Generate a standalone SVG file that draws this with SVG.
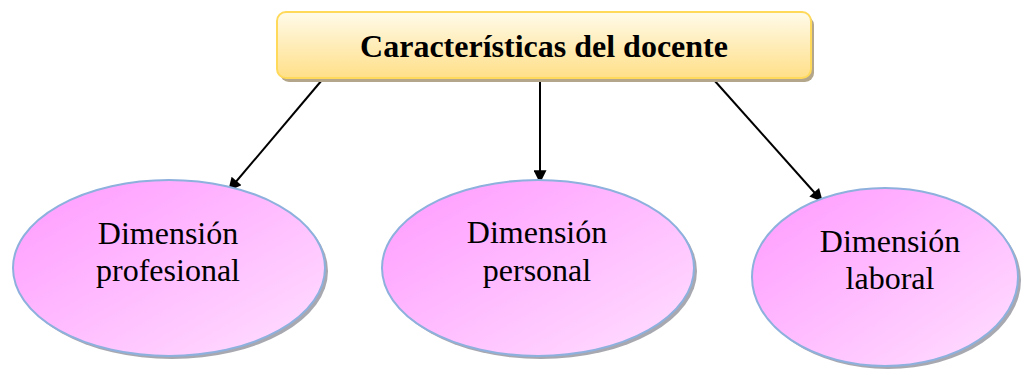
<svg xmlns="http://www.w3.org/2000/svg" width="1021" height="369" viewBox="0 0 1021 369">
<defs>
<style>
.ell{fill:url(#pink);stroke:#8eb0dd;stroke-width:2}
.lbl{font-family:"Liberation Serif",serif;font-size:32px;fill:#000;text-anchor:middle}
.ttl{font-family:"Liberation Serif",serif;font-size:32px;font-weight:bold;fill:#000;text-anchor:middle}
.con{stroke:#000;stroke-width:2;fill:none;marker-end:url(#arr)}
</style>
<linearGradient id="pink" x1="0" y1="0" x2="1" y2="1">
<stop offset="0" stop-color="#ff99ff"/>
<stop offset="1" stop-color="#ffe0ff"/>
</linearGradient>
<linearGradient id="gold" x1="0" y1="0" x2="0" y2="1">
<stop offset="0" stop-color="#fffbea"/>
<stop offset="1" stop-color="#ffdf88"/>
</linearGradient>
<marker id="arr" viewBox="0 0 10 10" refX="9" refY="5" markerWidth="15" markerHeight="13" markerUnits="userSpaceOnUse" orient="auto">
<path d="M0 0 L10 5 L0 10 z" fill="#000"/>
</marker>
</defs>
<g id="connectors">
<line class="con" x1="322" y1="80" x2="229" y2="190"/>
<line class="con" x1="540" y1="80" x2="540" y2="182"/>
<line class="con" x1="714" y1="80" x2="822" y2="201"/>
</g>
<g id="title">
<rect x="280" y="16" width="534" height="66" rx="9" fill="#b3a68a"/>
<rect x="277" y="12" width="534" height="66" rx="9" fill="url(#gold)" stroke="#ffd95a" stroke-width="2"/>
<text class="ttl" x="544" y="57">Características del docente</text>
</g>
<g id="n1">
<ellipse cx="172" cy="271" rx="156" ry="88" fill="#a8a8b0"/>
<ellipse class="ell" cx="169" cy="268" rx="156" ry="88"/>
<text class="lbl" x="168" y="244">Dimensión</text>
<text class="lbl" x="168" y="281">profesional</text>
</g>
<g id="n2">
<ellipse cx="541" cy="271" rx="156" ry="88" fill="#a8a8b0"/>
<ellipse class="ell" cx="538" cy="268" rx="156" ry="88"/>
<text class="lbl" x="537" y="243">Dimensión</text>
<text class="lbl" x="537" y="281">personal</text>
</g>
<g id="n3">
<ellipse cx="888" cy="280" rx="133" ry="89" fill="#a8a8b0"/>
<ellipse class="ell" cx="885" cy="277" rx="133" ry="89"/>
<text class="lbl" x="890" y="252">Dimensión</text>
<text class="lbl" x="890" y="289">laboral</text>
</g>
</svg>
